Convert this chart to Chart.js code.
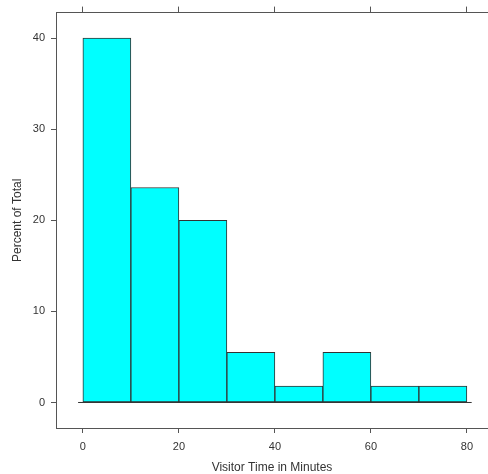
<!DOCTYPE html>
<html>
<head>
<meta charset="utf-8">
<title>Visitor Time</title>
<script src="https://cdn.jsdelivr.net/npm/chart.js@4.4.1/dist/chart.umd.min.js"></script>
<style>
  html, body { margin: 0; padding: 0; background: #ffffff; overflow: hidden; }
  #wrap { width: 488px; height: 474px; }
</style>
</head>
<body>
<div id="wrap"><canvas id="hist" width="488" height="474"></canvas></div>
<script>
// Histogram bins (minutes) and percent of total in each bin
const binBreaks = [0, 10, 20, 30, 40, 50, 60, 70, 80];
const percentOfTotal = [40.0, 23.6, 20.0, 5.5, 1.8, 5.5, 1.8, 1.8];

// Axis tick labels
const xTickValues = [0, 20, 40, 60, 80];
const yTickValues = [0, 10, 20, 30, 40];

// Axis limits (data range padded on each side)
const xLimits = [-5.6, 84.4];
const yLimits = [-2.8, 42.8];

const barPoints = percentOfTotal.map((p, i) => ({
  x: (binBreaks[i] + binBreaks[i + 1]) / 2,
  y: p
}));
const baselinePoints = [
  { x: binBreaks[0] - 1, y: 0 },
  { x: binBreaks[binBreaks.length - 1] + 1, y: 0 }
];

const FONT = "'Liberation Sans', Arial, 'DejaVu Sans', sans-serif";
const AXIS_COLOR = '#555555';
const TEXT_COLOR = '#333333';

const setTicks = values => scale => {
  scale.ticks = values.map(v => ({ value: v }));
};

new Chart(document.getElementById('hist'), {
  type: 'bar',
  data: {
    datasets: [
      {
        type: 'bar',
        data: barPoints,
        backgroundColor: '#00FFFF',
        borderColor: '#333333',
        borderWidth: 1,
        borderSkipped: false,
        barPercentage: 1.0,
        categoryPercentage: 1.0,
        xAxisID: 'x',
        yAxisID: 'y',
        order: 2
      },
      {
        type: 'line',
        data: baselinePoints,
        borderColor: '#333333',
        borderWidth: 1,
        pointRadius: 0,
        fill: false,
        xAxisID: 'x',
        yAxisID: 'y',
        order: 1
      }
    ]
  },
  options: {
    responsive: false,
    animation: false,
    devicePixelRatio: 1,
    layout: { padding: 0 },
    plugins: {
      legend: { display: false },
      tooltip: { enabled: false }
    },
    scales: {
      x: {
        type: 'linear',
        position: 'bottom',
        offset: false,
        min: xLimits[0],
        max: xLimits[1],
        afterBuildTicks: setTicks(xTickValues),
        afterFit: s => { s.height = 46; },
        grid: { offset: false, drawOnChartArea: false, drawTicks: true, tickLength: 5, color: AXIS_COLOR },
        border: { display: true, color: AXIS_COLOR, width: 1 },
        ticks: {
          autoSkip: false,
          maxRotation: 0,
          padding: 7,
          color: TEXT_COLOR,
          font: { family: FONT, size: 11 },
          callback: v => String(v)
        },
        title: {
          display: true,
          text: 'Visitor Time in Minutes',
          color: TEXT_COLOR,
          font: { family: FONT, size: 12, lineHeight: 1 },
          padding: { top: 0, bottom: 0 }
        }
      },
      xTop: {
        type: 'linear',
        position: 'top',
        offset: false,
        min: xLimits[0],
        max: xLimits[1],
        afterBuildTicks: setTicks(xTickValues),
        afterFit: s => { s.height = 12; },
        grid: { offset: false, drawOnChartArea: false, drawTicks: true, tickLength: 6, color: AXIS_COLOR },
        border: { display: true, color: AXIS_COLOR, width: 1 },
        ticks: { display: false }
      },
      y: {
        type: 'linear',
        position: 'left',
        min: yLimits[0],
        max: yLimits[1],
        afterBuildTicks: setTicks(yTickValues),
        afterFit: s => { s.width = 56; },
        grid: { drawOnChartArea: false, drawTicks: true, tickLength: 5, color: AXIS_COLOR },
        border: { display: true, color: AXIS_COLOR, width: 1 },
        ticks: {
          padding: 6,
          color: TEXT_COLOR,
          font: { family: FONT, size: 11 },
          callback: v => String(v)
        },
        title: {
          display: true,
          text: 'Percent of Total',
          color: TEXT_COLOR,
          font: { family: FONT, size: 12, lineHeight: 1 },
          padding: { top: 12, bottom: 0 }
        }
      }
    }
  }
});
</script>
</body>
</html>
